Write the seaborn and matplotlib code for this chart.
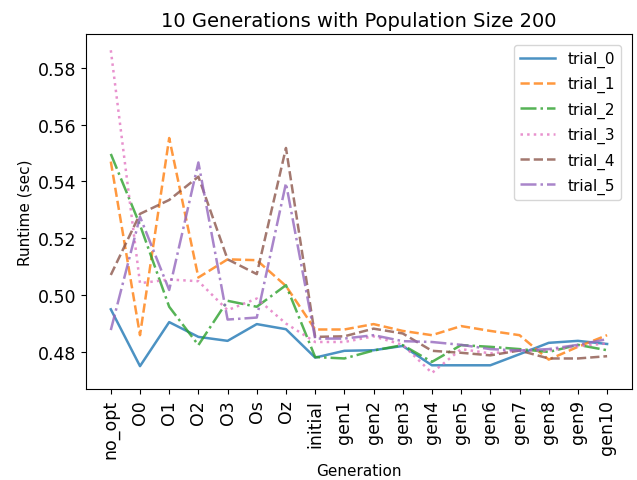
import numpy as np
import pandas as pd
import matplotlib
matplotlib.use("Agg")
import matplotlib.pyplot as plt
import seaborn as sns

stages = ["no_opt", "O0", "O1", "O2", "O3", "Os", "Oz", "initial",
          "gen1", "gen2", "gen3", "gen4", "gen5", "gen6", "gen7", "gen8", "gen9", "gen10"]

trial_0 = [0.495, 0.475, 0.4905, 0.4853, 0.4839, 0.4898, 0.488, 0.478,
           0.4804, 0.4806, 0.4821, 0.4753, 0.4753, 0.4753, 0.4792, 0.4832, 0.4839, 0.4828]
trial_1 = [0.547, 0.4859, 0.5553, 0.5062, 0.5126, 0.5123, 0.5032, 0.4879,
           0.4879, 0.4898, 0.4874, 0.4859, 0.4891, 0.4874, 0.4859, 0.4773, 0.4818, 0.4859]
trial_2 = [0.5497, 0.5247, 0.4959, 0.4824, 0.498, 0.4959, 0.5035, 0.4782,
           0.4777, 0.4805, 0.4824, 0.4765, 0.4824, 0.4818, 0.481, 0.480, 0.4825, 0.4806]
trial_3 = [0.5862, 0.5042, 0.5055, 0.5049, 0.4947, 0.4988, 0.490, 0.4835,
           0.4835, 0.4855, 0.4825, 0.4726, 0.481, 0.4795, 0.4805, 0.4805, 0.482, 0.483]
trial_4 = [0.5071, 0.5286, 0.5335, 0.5417, 0.5126, 0.5074, 0.5518, 0.4853,
           0.4855, 0.4882, 0.4865, 0.4804, 0.4797, 0.4788, 0.4805, 0.4777, 0.4777, 0.4785]
trial_5 = [0.4877, 0.5276, 0.5018, 0.5467, 0.4914, 0.4921, 0.5394, 0.4847,
           0.4847, 0.4859, 0.4838, 0.4835, 0.4825, 0.481, 0.4805, 0.481, 0.4825, 0.4845]

trials = {"trial_0": trial_0, "trial_1": trial_1, "trial_2": trial_2,
          "trial_3": trial_3, "trial_4": trial_4, "trial_5": trial_5}
colors = ["tab:blue", "tab:orange", "tab:green", "tab:pink", "tab:brown", "tab:purple"]
styles = ["-", "--", "-.", ":", "--", "-."]

plt.rcParams["font.size"] = 11

fig, ax = plt.subplots(figsize=(6.37, 4.81), dpi=100)
for (name, vals), c, ls in zip(trials.items(), colors, styles):
    sns.lineplot(x=stages, y=vals, ax=ax, color=c, linestyle=ls, alpha=0.8,
                 linewidth=1.8, label=name, sort=False)

ax.set_title("10 Generations with Population Size 200", fontsize=14)
ax.set_xlabel("Generation")
ax.set_ylabel("Runtime (sec)")
ax.tick_params(axis="both", labelsize=12.5)
ax.tick_params(axis="x", rotation=90)
ax.legend(loc="upper right", handlelength=2.3, labelspacing=0.6, borderaxespad=0.7)
fig.subplots_adjust(left=0.135, right=0.992, top=0.927, bottom=0.189)
fig.savefig("out.png", dpi=100)
